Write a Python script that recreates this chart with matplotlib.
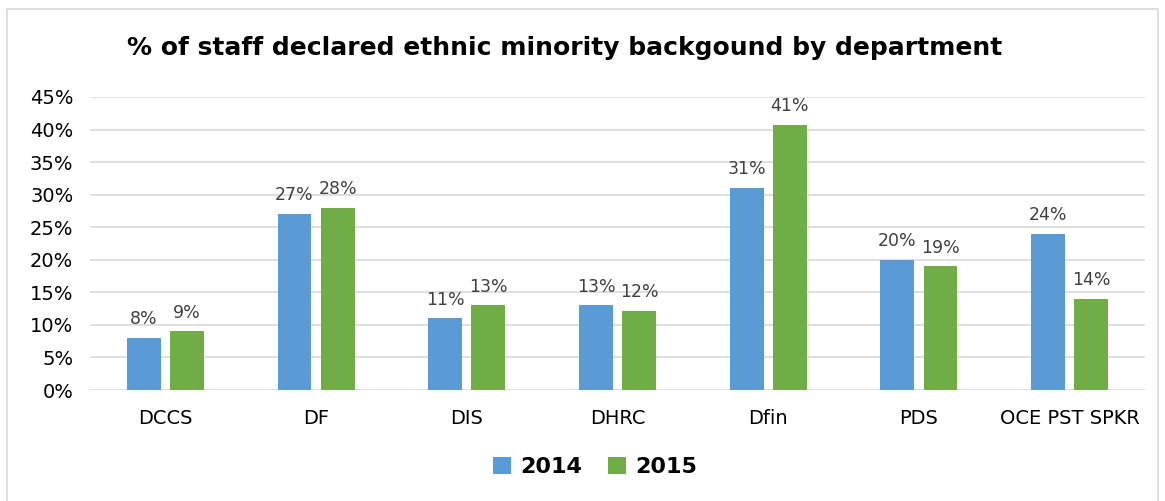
import matplotlib

matplotlib.use("Agg")
import matplotlib.pyplot as plt
import numpy as np
from matplotlib.patches import Rectangle

departments = ["DCCS", "DF", "DIS", "DHRC", "Dfin", "PDS", "OCE PST SPKR"]
share_2014 = [8, 27, 11, 13, 31, 20, 24]
share_2015 = [9, 28, 13, 12.2, 40.7, 19, 14]
series_labels = ["2014", "2015"]

BLUE = "#5B9BD5"
GREEN = "#70AD47"
GRID = "#D9D9D9"
LABEL = "#404040"

plt.rcParams["font.family"] = ["DejaVu Sans"]

fig = plt.figure(figsize=(11.65, 5.01), dpi=100)
ax = fig.add_axes([90 / 1165, 1 - 390 / 501, (1145 - 90) / 1165, (390 - 97) / 501])

# outer chart border
fig.patches.append(Rectangle((7 / 1165, -0.02), 1151 / 1165, 1 - 9 / 501 + 0.02,
                             transform=fig.transFigure, fill=False,
                             edgecolor="#D9D9D9", lw=1.2))

x = np.arange(len(departments))
width = 0.225
offset = 0.143
b1 = ax.bar(x - offset, share_2014, width, color=BLUE, label=series_labels[0], zorder=3)
b2 = ax.bar(x + offset, share_2015, width, color=GREEN, label=series_labels[1], zorder=3)

for bars in (b1, b2):
    for rect in bars:
        v = rect.get_height()
        ax.annotate(f"{v:.0f}%", (rect.get_x() + rect.get_width() / 2, v),
                    xytext=(0, 7), textcoords="offset points",
                    ha="center", va="bottom", fontsize=12.5, color=LABEL)

ax.set_xlim(-0.5, len(departments) - 0.5)
ax.set_ylim(0, 45)
ax.set_yticks(np.arange(0, 46, 5))
ax.set_yticklabels([f"{t}%" for t in range(0, 46, 5)])
ax.set_xticks(x)
ax.set_xticklabels(departments)
ax.tick_params(axis="both", length=0, labelsize=14, colors="black")
ax.tick_params(axis="x", pad=14)
ax.tick_params(axis="y", pad=12)
ax.yaxis.grid(True, color=GRID, lw=1.2, zorder=0)
for s in ax.spines.values():
    s.set_visible(False)

fig.text(565 / 1165, 1 - 48 / 501, "% of staff declared ethnic minority backgound by department",
         ha="center", va="center", fontsize=18, fontweight="bold")

fig.legend(loc="center", bbox_to_anchor=(595 / 1165, 1 - 467 / 501), ncol=2,
           frameon=False, handlelength=0.8, handleheight=0.8, handletextpad=0.4,
           columnspacing=1.2, prop={"weight": "bold", "size": 16})

fig.savefig("out.png", dpi=100)
